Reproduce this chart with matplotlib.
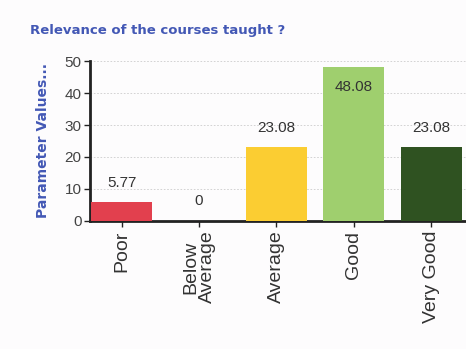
import matplotlib
matplotlib.use("Agg")
import matplotlib.pyplot as plt

# Survey results for one question ...
categories = ["Poor", "Below\nAverage", "Average", "Good", "Very Good"]
values = [5.77, 0.0, 23.08, 48.08, 23.08]
colours = ["#e2404e", "#e2404e", "#fbcd32", "#9fcf6e", "#2f5221"]
yticks = [0, 10, 20, 30, 40, 50]

plt.rcParams["font.family"] = ["Liberation Sans", "DejaVu Sans"]

fg = plt.figure(figsize=(4.66, 3.49), dpi=100)
fg.patch.set_facecolor("#fdfcfd")

ax = fg.add_axes([0.193, 0.367, 0.807, 0.458])
ax.set_facecolor("#fdfcfd")

xs = list(range(len(categories)))
bars = ax.bar(xs, values, width=0.79, color=colours, zorder=3)

# Value annotations: above the bar, or inside the top when it would clip ...
for x, v in zip(xs, values):
    if v > 40:
        ax.annotate(f"{v:g}", (x, v), xytext=(0, -14), textcoords="offset points",
                    ha="center", va="center", fontsize=11, color="#333333", zorder=4)
    else:
        ax.annotate(f"{v:g}", (x, v), xytext=(0, 14), textcoords="offset points",
                    ha="center", va="center", fontsize=11, color="#333333", zorder=4)

ax.set_xlim(-0.41, 4.45)
ax.set_ylim(0, 50)
ax.set_yticks(yticks)
ax.set_yticklabels([str(t) for t in yticks], fontsize=11, color="#444444")
ax.set_xticks(xs)
ax.set_xticklabels(categories, rotation=90, fontsize=14, color="#333333",
                   linespacing=1.0)
ax.tick_params(axis="y", length=4, width=1.0, color="#222222", pad=2)
ax.tick_params(axis="x", length=4, width=1.0, color="#222222", pad=3)

ax.grid(axis="y", color="#cccccc", linestyle=(0, (2, 2)), linewidth=0.6, zorder=0)
for side in ["top", "right"]:
    ax.spines[side].set_visible(False)
for side in ["left", "bottom"]:
    ax.spines[side].set_linewidth(2.0)
    ax.spines[side].set_color("#222222")

ax.set_ylabel("Parameter Values...", fontsize=10, fontweight="bold",
              color="#4358b5", family="DejaVu Sans")
ax.yaxis.set_label_coords(-0.105, 0.5)

fg.text(0.064, 0.914, "Relevance of the courses taught ?", fontsize=9.5,
        fontweight="bold", color="#4358b5", family="DejaVu Sans",
        ha="left", va="center")

fg.savefig("out.png", dpi=100, facecolor=fg.get_facecolor())
plt.close(fg)
